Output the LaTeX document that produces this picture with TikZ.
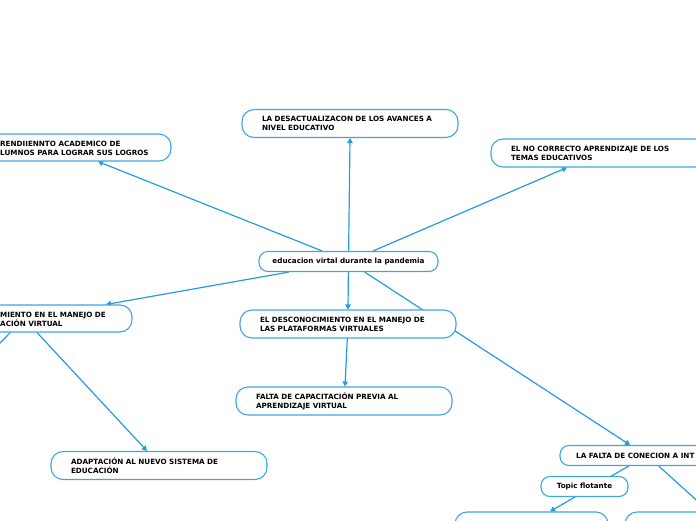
\documentclass[tikz,border=0pt]{standalone}
\usepackage{fontspec}
\setmainfont{DejaVu Sans}
\usetikzlibrary{arrows.meta,backgrounds}
\definecolor{mmblue}{RGB}{38,155,222}
\definecolor{mmborder}{RGB}{62,165,228}
\begin{document}
\begin{tikzpicture}[x=1pt,y=-1pt,
  txt/.style={font=\fontsize{7.2}{9}\selectfont\bfseries, text=black},
  box/.style={draw=mmborder, line width=1.1pt, fill=white, rounded corners=12pt,
    minimum height=28pt, inner sep=0pt, txt},
  wbox/.style={box, text width=176pt, inner xsep=20pt, align=left},
  pill/.style={box, rounded corners=9pt, minimum height=20pt},
  free/.style={txt, anchor=west, inner sep=0pt, align=left},
  conn/.style={draw=mmblue, line width=1.2pt, -{Triangle[length=5pt,width=5.5pt]}}
]
\useasboundingbox (0,0) rectangle (696,520);
\clip (0,0) rectangle (696,520);

% central topic
\node[pill, minimum width=179pt] (c) at (348.5,261.5) {educacion virtal durante la pandemia};

% main topics
\node[box, minimum width=216pt, minimum height=27pt] (n1) at (63,147.5) {};
\node[free] (n1t) at (0,148) {RENDIIENNTO ACADEMICO DE\\LUMNOS PARA LOGRAR SUS LOGROS};
\node[wbox] (n2) at (350,123.5) {LA DESACTUALIZACON DE LOS AVANCES A\\NIVEL EDUCATIVO};
\node[wbox] (n3) at (599,153) {EL NO CORRECTO APRENDIZAJE DE LOS\\TEMAS EDUCATIVOS};
\node[box, minimum width=216pt, minimum height=27pt] (lm) at (24,318.5) {};
\node[free] (lmt) at (0,319) {MIENTO EN EL MANEJO DE\\ACIÓN VIRTUAL};
\node[wbox] (m2) at (348,324) {EL DESCONOCIMIENTO EN EL MANEJO DE\\LAS PLATAFORMAS VIRTUALES};
\node[wbox] (fp) at (344,401) {FALTA DE CAPACITACIÓN PREVIA AL\\APRENDIZAJE VIRTUAL};
\node[wbox] (ad) at (159,465.5) {ADAPTACIÓN AL NUEVO SISTEMA DE\\EDUCACIÓN};
\node[pill, minimum width=174pt] (lf) at (647,455.5) {};
\node[free] (lft) at (576,455.5) {LA FALTA DE CONECION A INT};
\node[pill, minimum width=87pt] (tf) at (584.5,486.5) {Topic flotante};
\node[box, minimum width=153pt] (bl) at (531.5,526) {};
\node[box, minimum width=168pt] (br) at (709,526) {};
\coordinate (offL) at (-40,384);

\begin{pgfonlayer}{background}
\draw[conn] (c) -- ([xshift=35pt]n1.south);
\draw[conn] (c) -- (n2.south);
\draw[conn] (c) -- ([xshift=-32pt]n3.south);
\draw[conn] (c) -- ([xshift=82pt]lm.north);
\draw[conn] (c) -- (m2.north);
\draw[conn] (c) -- ([xshift=-17pt]lf.north);
\draw[conn] (m2) -- ([xshift=1pt]fp.north);
\draw[conn] (lm) -- ([xshift=-12pt]ad.north);
\draw[conn] (lm) -- (offL);
\draw[conn] (lf) -- ([xshift=18.5pt]bl.north);
\draw[conn] (lf) -- (br.north);
\end{pgfonlayer}
\end{tikzpicture}
\end{document}
